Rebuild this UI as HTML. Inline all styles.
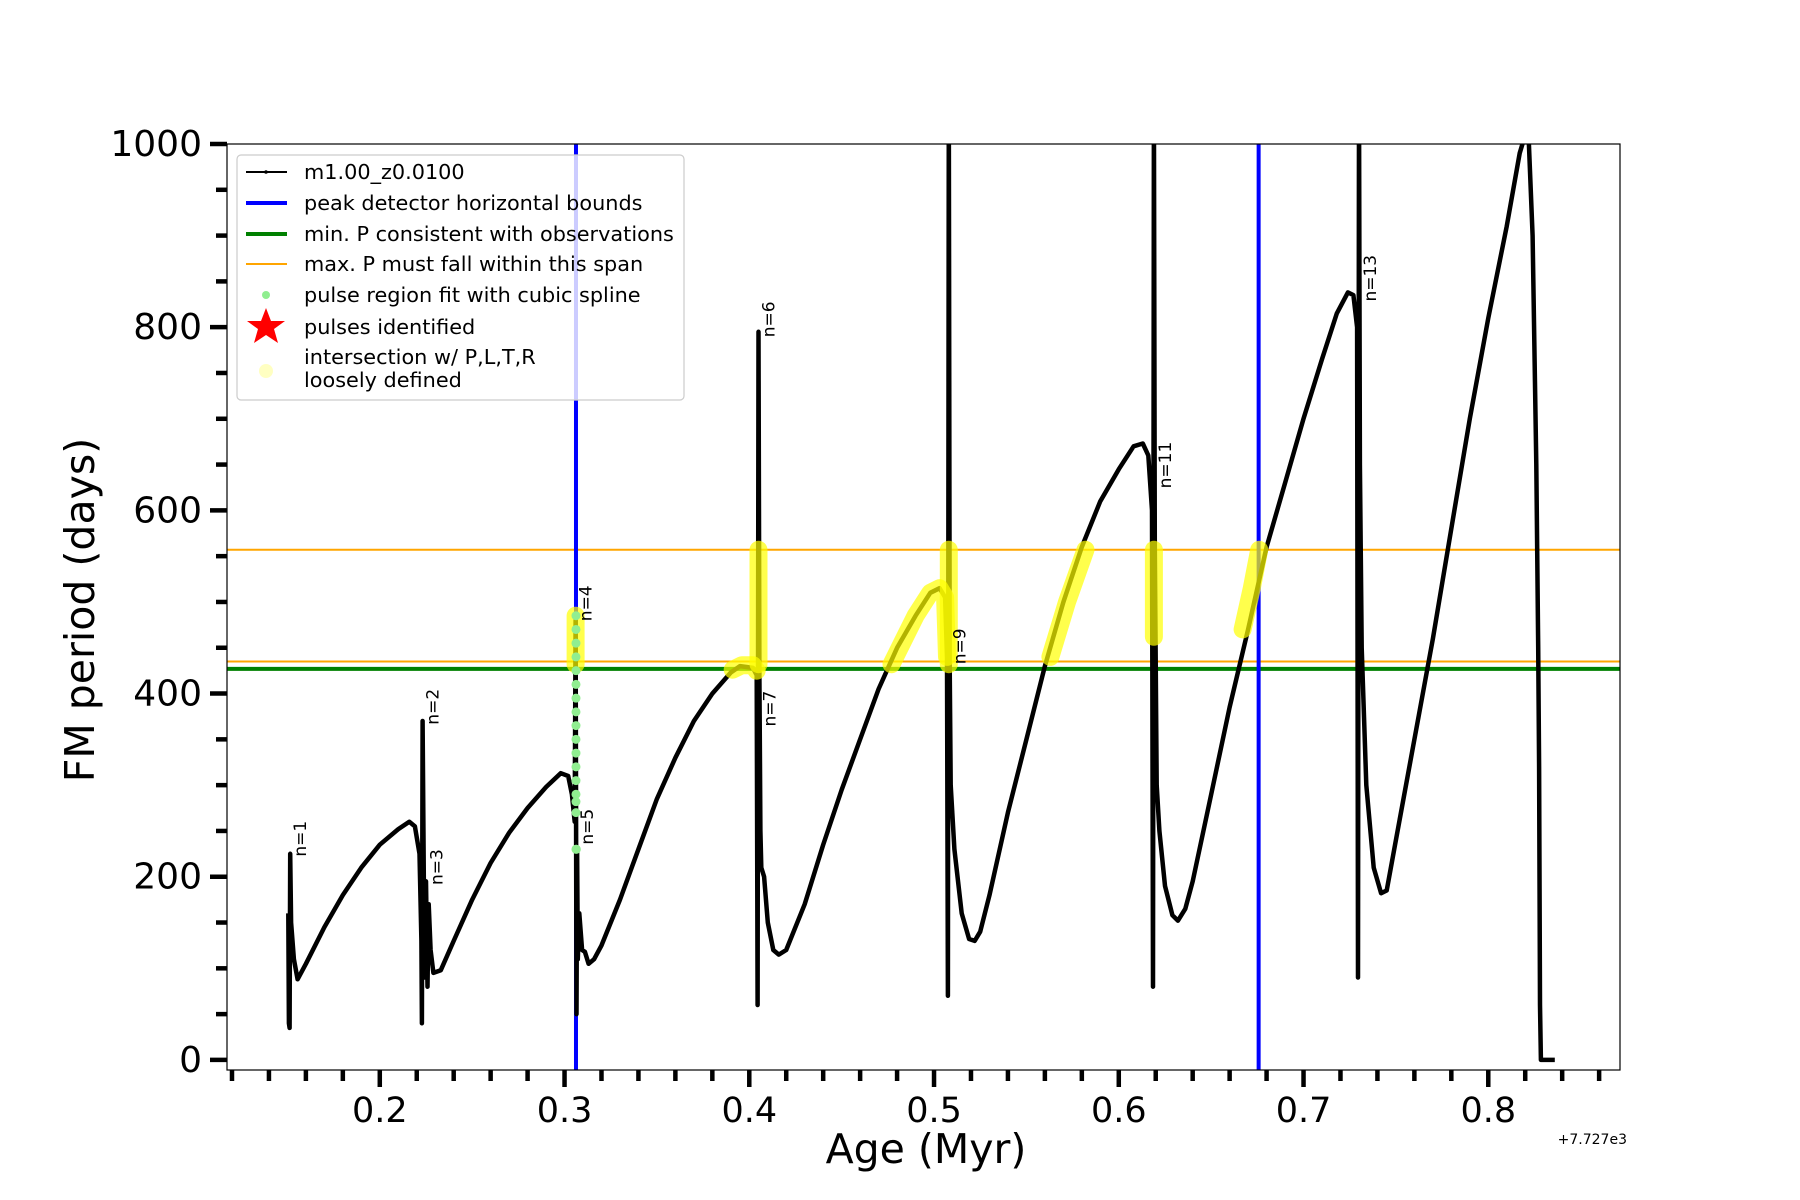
<!DOCTYPE html>
<html><head><meta charset="utf-8"><style>
html,body{margin:0;padding:0;background:#fff;}
svg{display:block;font-family:"DejaVu Sans","Liberation Sans",sans-serif;}
</style></head><body>
<svg id="chart" width="1800" height="1200" viewBox="0 0 1800 1200" xmlns="http://www.w3.org/2000/svg">
<defs><clipPath id="clip"><rect x="227" y="144" width="1393" height="926"/></clipPath></defs>
<rect x="0" y="0" width="1800" height="1200" fill="#fff"/>
<g id="plot" clip-path="url(#clip)"></g>
<rect x="227" y="144" width="1393" height="926" fill="none" stroke="#000" stroke-width="1.2"/>
<g id="axes"></g>
<text x="83" y="610" font-size="41" text-anchor="middle" dominant-baseline="middle" transform="rotate(-90 83 610)">FM period (days)</text>
<text x="926" y="1163" font-size="41" text-anchor="middle">Age (Myr)</text>
<text x="1627" y="1144" font-size="14" text-anchor="end">+7.727e3</text>
<g id="legend">
<rect x="237" y="155" width="447" height="245" rx="4" fill="#fff" fill-opacity="0.8" stroke="#ccc" stroke-width="1.2"/>
<g><line x1="246" y1="172" x2="287" y2="172" stroke="#000" stroke-width="2"/><circle cx="266" cy="172" r="1.8" fill="#000"/><text x="304" y="179" font-size="20.8">m1.00_z0.0100</text></g>
<g><line x1="246" y1="203" x2="287" y2="203" stroke="#0000ff" stroke-width="4"/><text x="304" y="210" font-size="20.8">peak detector horizontal bounds</text></g>
<g><line x1="246" y1="234" x2="287" y2="234" stroke="#008000" stroke-width="4"/><text x="304" y="241" font-size="20.8">min. P consistent with observations</text></g>
<g><line x1="246" y1="264" x2="287" y2="264" stroke="#ffa500" stroke-width="2"/><text x="304" y="271" font-size="20.8">max. P must fall within this span</text></g>
<g><circle cx="266" cy="295" r="4" fill="#90ee90"/><text x="304" y="302" font-size="20.8">pulse region fit with cubic spline</text></g>
<g><polygon points="266,308 271,321 285,321 274,329 278,343 266,335 254,343 258,329 247,321 261,321" fill="#ff0000"/><text x="304" y="334" font-size="20.8">pulses identified</text></g>
<g><circle cx="266" cy="371" r="7" fill="#ffff99" fill-opacity="0.6"/><text x="304" y="364" font-size="20.8">intersection w/ P,L,T,R</text><text x="304" y="387" font-size="20.8">loosely defined</text></g>
</g>
</svg>
<script>
const ages = [0.1505,0.1508,0.1512,0.1515,0.152,0.1535,0.1555,0.16,0.17,0.18,0.19,0.20,0.21,0.216,0.219,0.2215,
0.2225,0.2228,0.2232,0.2238,0.2245,0.225,0.2258,0.2265,0.2275,0.229,0.233,0.24,0.25,0.26,0.27,0.28,0.29,0.298,0.302,0.304,0.3055,
0.306,0.3062,0.3065,0.3068,0.3072,0.308,0.3095,0.311,0.313,0.316,0.32,0.33,0.34,0.35,0.36,0.37,0.38,0.39,0.395,0.402,0.404,
0.4045,0.405,0.4055,0.406,0.4065,0.408,0.41,0.413,0.416,0.42,0.43,0.44,0.45,0.46,0.47,0.48,0.49,0.498,0.503,0.506,0.507,
0.5075,0.508,0.5085,0.509,0.511,0.515,0.519,0.522,0.525,0.53,0.54,0.55,0.56,0.57,0.58,0.59,0.60,0.608,0.613,0.616,0.618,
0.6185,0.619,0.6195,0.6205,0.622,0.625,0.629,0.632,0.636,0.64,0.65,0.66,0.67,0.68,0.69,0.70,0.71,0.718,0.724,0.727,0.729,
0.7295,0.730,0.7305,0.7315,0.734,0.738,0.742,0.745,0.75,0.76,0.77,0.78,0.79,0.80,0.81,0.817,0.82,0.822,0.824,0.826,0.827,0.8275,0.828,0.8285,0.836];
const periods = [160,40,35,225,150,110,88,105,145,180,210,235,252,260,255,225,
130,40,370,200,90,195,80,170,120,95,98,130,175,215,248,275,298,313,310,290,260,
480,300,50,230,110,160,120,118,105,110,125,175,230,285,330,370,400,423,430,428,420,
60,795,420,250,210,200,150,120,115,120,170,235,295,350,405,450,485,510,515,505,440,
70,1050,430,300,230,160,132,130,140,180,270,350,430,500,560,610,645,670,673,660,600,
80,1050,560,300,250,190,158,152,165,195,290,385,470,560,630,700,765,815,838,835,800,
90,1050,650,450,300,210,182,185,240,350,460,580,700,810,910,990,1010,1000,900,650,450,320,60,0,0];
const yellowAges = [[0.306,0.306],[0.391,0.396,0.402,0.404],[0.405,0.405],[0.477,0.49,0.498,0.503,0.506,0.507],[0.508,0.508],[0.563,0.572,0.582],[0.619,0.619],[0.667,0.672,0.676]];
const yellowPeriods = [[432,485],[426,431,431,425],[432,557],[432,485,510,515,505,440],[432,557],[440,500,557],[462,557],[470,515,557]];
const splineAges = [0.3062,0.3062,0.3062,0.3062,0.3062,0.3062,0.3062,0.3062,0.3062,0.3062,0.3062,0.3062,0.3062,0.3062,0.3062,0.3062,0.3062,0.3064];
const splinePeriods = [485,470,455,440,425,410,395,380,365,350,335,320,305,290,282,270,230,230];
const blueAges = [0.3062,0.6757];
const minP = [427];
const maxP = [435,557];
const xTicks = [0.2,0.3,0.4,0.5,0.6,0.7,0.8];
const yTicks = [0,200,400,600,800,1000];
const pulseLabels = ["n=1","n=2","n=3","n=4","n=5","n=6","n=7","n=9","n=11","n=13"];
const labelAges = [0.1515,0.2232,0.2254,0.306,0.3068,0.405,0.4056,0.5085,0.6195,0.7305];
const labelPeriods = [222,366,191,479,235,789,364,432,624,828];

const X0=227,X1=1620,Y0=144,Y1=1070;
const xmin=0.1173,xmax=0.8713,ymin=-11,ymax=1000;
const sx=a=>X0+(a-xmin)/(xmax-xmin)*(X1-X0);
const sy=p=>Y1-(p-ymin)/(ymax-ymin)*(Y1-Y0);
const NS="http://www.w3.org/2000/svg";
const plot=document.getElementById('plot');
const axes=document.getElementById('axes');
function mk(tag,attrs,parent){const e=document.createElementNS(NS,tag);for(const k in attrs)e.setAttribute(k,attrs[k]);parent.appendChild(e);return e;}

maxP.forEach(p=>{const l=mk('line',{x1:X0,x2:X1,y1:sy(p),y2:sy(p),stroke:'#ffa500','stroke-width':2},plot);

});
minP.forEach(p=>{const l=mk('line',{x1:X0,x2:X1,y1:sy(p),y2:sy(p),stroke:'#008000','stroke-width':4},plot);

});
blueAges.forEach(a=>{const l=mk('line',{x1:sx(a),x2:sx(a),y1:Y0,y2:Y1,stroke:'#0000ff','stroke-width':4},plot);

});
let d='';ages.forEach((a,i)=>{d+=(i?'L':'M')+sx(a).toFixed(1)+','+sy(periods[i]).toFixed(1);});
const curve=mk('path',{d:d,fill:'none',stroke:'#000','stroke-width':4.5,'stroke-linejoin':'round'},plot);


yellowAges.forEach((arr,j)=>{let dd='';arr.forEach((a,i)=>{dd+=(i?'L':'M')+sx(a).toFixed(1)+','+sy(yellowPeriods[j][i]).toFixed(1);});
const y=mk('path',{d:dd,fill:'none',stroke:'#ffff00','stroke-opacity':0.7,'stroke-width':18,'stroke-linecap':'round','stroke-linejoin':'round'},plot);

});
splineAges.forEach((a,i)=>{const c=mk('circle',{cx:sx(a),cy:sy(splinePeriods[i]),r:4.5,fill:'#90ee90'},plot);

});
pulseLabels.forEach((t,i)=>{const x=sx(labelAges[i])+16,y=sy(labelPeriods[i]);
const e=mk('text',{x:x,y:y,'font-size':17,transform:`rotate(-90 ${x} ${y})`},plot);e.textContent=t;

});
for(let k=6;k<=43;k++){const v=k*0.02;if(v<xmin||v>xmax)continue;const major=Math.abs(v*10-Math.round(v*10))<1e-6;
const t=mk('line',{x1:sx(v),x2:sx(v),y1:Y1,y2:Y1+(major?17:11),stroke:'#000','stroke-width':4.5},axes);

}
xTicks.forEach(v=>{const e=mk('text',{x:sx(v),y:1122,'font-size':35,'text-anchor':'middle'},axes);e.textContent=v.toFixed(1);

});
for(let v=0;v<=1000;v+=50){const major=v%200===0;
const t=mk('line',{x1:X0,x2:X0-(major?17:11),y1:sy(v),y2:sy(v),stroke:'#000','stroke-width':4.5},axes);

}
yTicks.forEach(v=>{const e=mk('text',{x:202,y:sy(v)+12,'font-size':36,'text-anchor':'end'},axes);e.textContent=String(v);

});
</script>
</body></html>
